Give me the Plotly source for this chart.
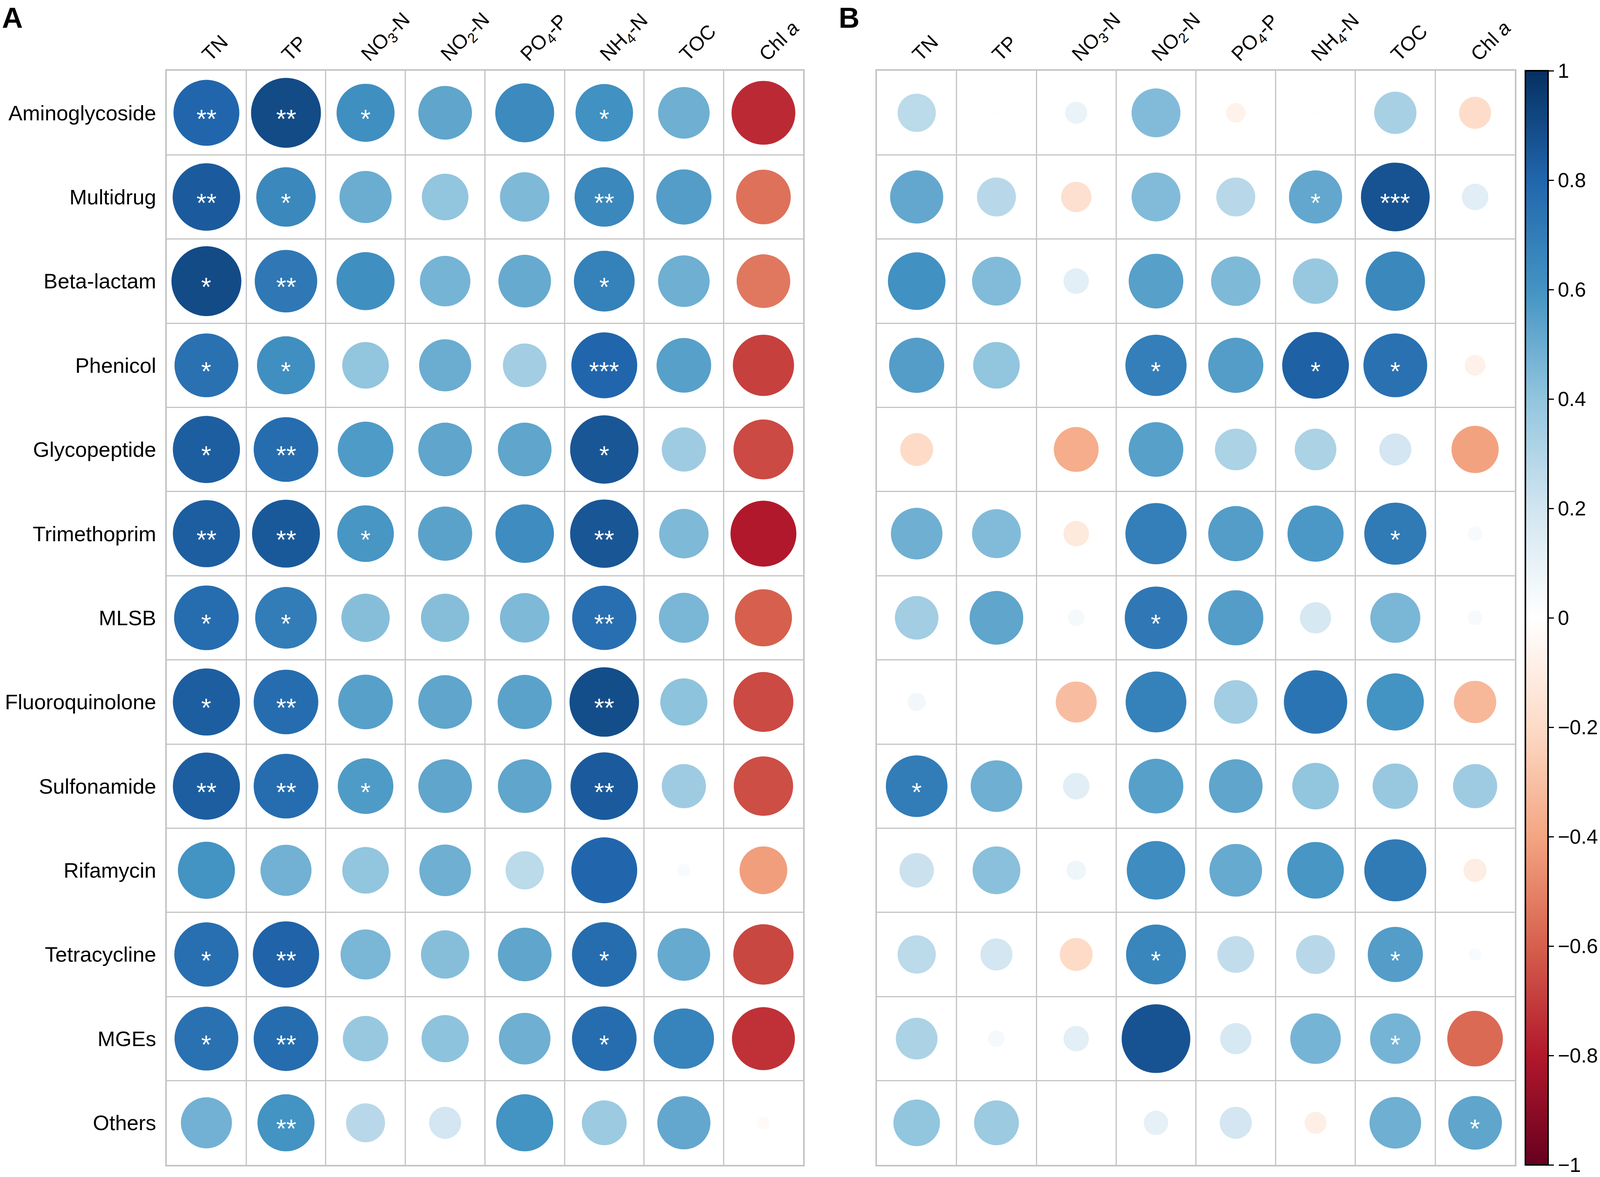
import numpy as np
import plotly.graph_objects as go

# OVERVIEW: two correlation circle plots (corrplot style), panels A and B
# the browser viewport is 4096 x 3012, so the page is laid out at that size and
# every position is given as a fraction of the reference picture (4328 x 3012)

REF_W, REF_H = 4328, 3012
W, H = 4096, 3012
SX = W / REF_W

###### DATA ######
genes = ["Aminoglycoside", "Multidrug", "Beta-lactam", "Phenicol", "Glycopeptide",
         "Trimethoprim", "MLSB", "Fluoroquinolone", "Sulfonamide", "Rifamycin",
         "Tetracycline", "MGEs", "Others"]

factors = ["TN", "TP", "NO<sub>3</sub>-N", "NO<sub>2</sub>-N", "PO<sub>4</sub>-P",
           "NH<sub>4</sub>-N", "TOC", "Chl <i>a</i>"]

# panel A: rows = genes, columns = factors
corr_a = [
    [0.80, 0.90, 0.62, 0.53, 0.64, 0.61, 0.49, -0.75],
    [0.84, 0.65, 0.50, 0.40, 0.45, 0.65, 0.56, -0.55],
    [0.90, 0.72, 0.62, 0.47, 0.51, 0.68, 0.49, -0.53],
    [0.75, 0.62, 0.40, 0.50, 0.35, 0.80, 0.55, -0.69],
    [0.83, 0.77, 0.57, 0.53, 0.53, 0.86, 0.36, -0.66],
    [0.83, 0.85, 0.59, 0.54, 0.63, 0.86, 0.45, -0.80],
    [0.77, 0.70, 0.43, 0.43, 0.45, 0.76, 0.46, -0.60],
    [0.83, 0.77, 0.55, 0.53, 0.54, 0.89, 0.41, -0.66],
    [0.83, 0.77, 0.57, 0.53, 0.53, 0.84, 0.36, -0.65],
    [0.60, 0.48, 0.40, 0.49, 0.27, 0.80, 0.03, -0.42],
    [0.76, 0.81, 0.46, 0.43, 0.53, 0.77, 0.51, -0.67],
    [0.75, 0.77, 0.38, 0.41, 0.49, 0.77, 0.67, -0.73],
    [0.48, 0.60, 0.28, 0.19, 0.60, 0.37, 0.52, -0.03],
]

sig_a = [
    ["**", "**", "*", "", "", "*", "", ""],
    ["**", "*", "", "", "", "**", "", ""],
    ["*", "**", "", "", "", "*", "", ""],
    ["*", "*", "", "", "", "***", "", ""],
    ["*", "**", "", "", "", "*", "", ""],
    ["**", "**", "*", "", "", "**", "", ""],
    ["*", "*", "", "", "", "**", "", ""],
    ["*", "**", "", "", "", "**", "", ""],
    ["**", "**", "*", "", "", "**", "", ""],
    ["", "", "", "", "", "", "", ""],
    ["*", "**", "", "", "", "*", "", ""],
    ["*", "**", "", "", "", "*", "", ""],
    ["", "**", "", "", "", "", "", ""],
]

# panel B
corr_b = [
    [0.27, 0.01, 0.09, 0.44, -0.07, 0.01, 0.33, -0.19],
    [0.52, 0.28, -0.17, 0.44, 0.28, 0.52, 0.87, 0.13],
    [0.61, 0.44, 0.12, 0.55, 0.45, 0.38, 0.65, 0.00],
    [0.56, 0.40, 0.00, 0.69, 0.56, 0.82, 0.75, -0.08],
    [-0.20, 0.00, -0.37, 0.55, 0.32, 0.32, 0.19, -0.41],
    [0.49, 0.44, -0.12, 0.69, 0.56, 0.58, 0.71, 0.04],
    [0.35, 0.53, 0.05, 0.72, 0.56, 0.18, 0.46, 0.04],
    [0.06, 0.00, -0.31, 0.68, 0.35, 0.74, 0.60, -0.33],
    [0.70, 0.49, 0.13, 0.55, 0.53, 0.40, 0.38, 0.36],
    [0.22, 0.42, 0.07, 0.63, 0.51, 0.59, 0.71, -0.10],
    [0.27, 0.19, -0.20, 0.66, 0.25, 0.28, 0.56, 0.03],
    [0.32, 0.05, 0.12, 0.87, 0.18, 0.47, 0.47, -0.57],
    [0.40, 0.37, 0.00, 0.11, 0.19, -0.09, 0.49, 0.53],
]

sig_b = [
    ["", "", "", "", "", "", "", ""],
    ["", "", "", "", "", "*", "***", ""],
    ["", "", "", "", "", "", "", ""],
    ["", "", "", "*", "", "*", "*", ""],
    ["", "", "", "", "", "", "", ""],
    ["", "", "", "", "", "", "*", ""],
    ["", "", "", "*", "", "", "", ""],
    ["", "", "", "", "", "", "", ""],
    ["*", "", "", "", "", "", "", ""],
    ["", "", "", "", "", "", "", ""],
    ["", "", "", "*", "", "", "*", ""],
    ["", "", "", "", "", "", "*", ""],
    ["", "", "", "", "", "", "", "*"],
]

cbar_ticks = [1, 0.8, 0.6, 0.4, 0.2, 0, -0.2, -0.4, -0.6, -0.8, -1]

# corrplot RdBu palette
RDBU = ["#67001F", "#B2182B", "#D6604D", "#F4A582", "#FDDBC7", "#FFFFFF",
        "#D1E5F0", "#92C5DE", "#4393C3", "#2166AC", "#053061"]
colorscale = [[i / 10, c] for i, c in enumerate(RDBU)]

###### LAYOUT NUMBERS (fractions of the reference picture) ######
dom_a = [450.7 / REF_W, 2172.7 / REF_W]
dom_b = [2371.7 / REF_W, 4098 / REF_W]
dom_y = [1 - 2981 / REF_H, 1 - 181 / REF_H]
cell_w = (dom_a[1] - dom_a[0]) * W / len(factors)
cell_h = (dom_y[1] - dom_y[0]) * H / len(genes)
cell_px = (cell_w + cell_h) / 2

FONT = "Liberation Sans"
GRID = "#C4C4C4"


def panel_trace(corr, xaxis, yaxis):
    vals = np.array(corr)
    n_row, n_col = vals.shape
    xs, ys = np.meshgrid(np.arange(1, n_col + 1), np.arange(1, n_row + 1))
    sizes = 0.9 * np.sqrt(np.abs(vals)) * cell_px  # corrplot circle: area ~ |r|
    return go.Scatter(
        x=xs.ravel(), y=ys.ravel(),
        mode="markers",
        marker=dict(size=sizes.ravel(), color=vals.ravel(), coloraxis="coloraxis",
                    line=dict(width=0), opacity=1),
        xaxis=xaxis, yaxis=yaxis,
        showlegend=False, hoverinfo="skip",
    )


def sig_annotations(sig, xref, yref):
    out = []
    for i, row in enumerate(sig):
        for j, s in enumerate(row):
            if s:
                out.append(dict(x=j + 1, y=i + 1, xref=xref, yref=yref, text=s,
                                showarrow=False, yshift=-15,
                                font=dict(family=FONT, size=66, color="white")))
    return out


fig = go.Figure()
fig.add_trace(panel_trace(corr_a, "x", "y"))
fig.add_trace(panel_trace(corr_b, "x2", "y2"))

x_common = dict(
    range=[0.5, len(factors) + 0.5], side="top", automargin=False,
    tickmode="array", tickvals=list(range(1, len(factors) + 1)), ticktext=factors,
    tickangle=-45, tickfont=dict(family=FONT, size=51, color="black"),
    ticklabelstandoff=-10, ticklabelshift=-8,
    ticks="", showgrid=False, zeroline=False,
    showline=True, mirror=True, linecolor=GRID, linewidth=4,
    minor=dict(tickmode="linear", tick0=0.5, dtick=1, showgrid=True,
               gridcolor=GRID, gridwidth=3, ticks=""),
    fixedrange=True,
)
y_common = dict(
    range=[len(genes) + 0.5, 0.5], automargin=False,
    tickmode="array", tickvals=list(range(1, len(genes) + 1)),
    ticks="", showgrid=False, zeroline=False,
    showline=True, mirror=True, linecolor=GRID, linewidth=4,
    minor=dict(tickmode="linear", tick0=0.5, dtick=1, showgrid=True,
               gridcolor=GRID, gridwidth=3, ticks=""),
    domain=dom_y, fixedrange=True,
)

fig.update_layout(
    template="none",
    width=W, height=H,
    margin=dict(l=0, r=0, t=0, b=0, pad=0),
    paper_bgcolor="white", plot_bgcolor="white",
    font=dict(family=FONT, color="black"),
    xaxis=dict(x_common, domain=dom_a, anchor="y"),
    yaxis=dict(y_common, anchor="x", ticktext=genes, ticklabelstandoff=12,
               tickfont=dict(family=FONT, size=54, color="black")),
    xaxis2=dict(x_common, domain=dom_b, anchor="y2"),
    yaxis2=dict(y_common, anchor="x2", showticklabels=False),
    coloraxis=dict(
        colorscale=colorscale, cmin=-1, cmax=1,
        colorbar=dict(
            x=4126.7 / REF_W, xanchor="left", xpad=0,
            y=dom_y[0], yanchor="bottom", ypad=0,
            len=dom_y[1] - dom_y[0], lenmode="fraction",
            thickness=round(61 * SX), outlinecolor="black", outlinewidth=4,
            tickmode="array", tickvals=cbar_ticks,
            ticks="outside", ticklen=13, tickwidth=3, tickcolor="black",
            tickfont=dict(family=FONT, size=52, color="black"),
        ),
    ),
    annotations=sig_annotations(sig_a, "x", "y") + sig_annotations(sig_b, "x2", "y2") + [
        dict(x=3 / REF_W, y=1 - 2 / REF_H, xref="paper", yref="paper", xanchor="left", yanchor="top",
             text="<b>A</b>", showarrow=False, font=dict(family=FONT, size=74, color="black")),
        dict(x=2266 / REF_W, y=1 - 2 / REF_H, xref="paper", yref="paper", xanchor="left", yanchor="top",
             text="<b>B</b>", showarrow=False, font=dict(family=FONT, size=74, color="black")),
    ],
)

fig.write_html("out.html", config={"displayModeBar": False},
               post_script="document.body.style.margin = '0px';")
